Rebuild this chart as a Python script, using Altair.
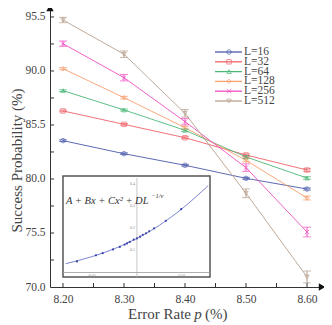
import altair as alt
import pandas as pd

# ---------------- data ----------------
p_vals = [8.20, 8.30, 8.40, 8.50, 8.60]
series = ["L=16", "L=32", "L=64", "L=128", "L=256", "L=512"]
succ_L16 = [83.55, 82.34, 81.27, 80.06, 79.07]
succ_L32 = [86.30, 85.06, 83.82, 82.22, 80.83]
succ_L64 = [88.18, 86.39, 84.51, 82.04, 80.09]
succ_L128 = [90.21, 87.53, 84.75, 81.73, 78.24]
succ_L256 = [92.53, 89.38, 85.31, 81.05, 75.09]
succ_L512 = [94.72, 91.55, 86.08, 78.68, 70.93]
err_L16 = [0.08, 0.08, 0.08, 0.09, 0.10]
err_L32 = [0.08, 0.08, 0.09, 0.10, 0.12]
err_L64 = [0.08, 0.09, 0.10, 0.12, 0.12]
err_L128 = [0.10, 0.12, 0.14, 0.15, 0.18]
err_L256 = [0.25, 0.30, 0.30, 0.35, 0.45]
err_L512 = [0.25, 0.30, 0.35, 0.40, 0.55]
colors = ["#4a5aab", "#f0646a", "#4cb878", "#f7a070", "#f050c0", "#b8a08e"]
shapes = ["circle", "square", "triangle-up", "diamond",
          "M-1,-1L1,1M-1,1L1,-1", "triangle-down"]

y_tick_vals = [70, 75, 80, 85, 90, 95]
y_tick_labels = ["70.0", "75.5", "80.0", "85.5", "90.0", "95.5"]
x_minor_ticks = [8.20, 8.25, 8.30, 8.35, 8.40, 8.45, 8.50, 8.55, 8.60]
y_minor_ticks = [72.5, 75, 77.5, 80, 82.5, 85, 87.5, 90, 92.5, 95]

# inset (fit of crossing points)
inset_fit_x = [-0.0158, -0.010, -0.005, 0.0, 0.005, 0.010, 0.0158]
inset_fit_y = [0.040, 0.072, 0.108, 0.155, 0.215, 0.290, 0.395]
inset_pt_x = [-0.0133, -0.0091, -0.0076, -0.0053, -0.0038, -0.0027, -0.0022,
              -0.0016, -0.0007, 0.0, 0.0007, 0.0013, 0.0020, 0.0027, 0.0038,
              0.0064, 0.0098]
inset_pt_y = [0.050, 0.078, 0.088, 0.105, 0.116, 0.127, 0.132, 0.139, 0.149,
              0.155, 0.163, 0.171, 0.178, 0.187, 0.200, 0.235, 0.288]
inset_ytick_vals = [0.1, 0.2, 0.3, 0.4]
inset_xtick_vals = [-0.01, 0.01]
inset_xtick_labels = ["-0.01", "0.01"]

# ---------------- tables ----------------
all_succ = [succ_L16, succ_L32, succ_L64, succ_L128, succ_L256, succ_L512]
all_err = [err_L16, err_L32, err_L64, err_L128, err_L256, err_L512]
rows = []
for i, (name, vals, errs) in enumerate(zip(series, all_succ, all_err)):
    for p, v, e in zip(p_vals, vals, errs):
        rows.append(dict(p=p, succ=v, lo=v - e, hi=v + e, series=name,
                         color=colors[i], shape=shapes[i]))
df = pd.DataFrame(rows)
leg = pd.DataFrame({"row": list(range(len(series))), "label": series,
                    "color": colors, "shape": shapes})
df_xt = pd.DataFrame({"p": x_minor_ticks})
df_yt = pd.DataFrame({"succ": y_minor_ticks})
fit = pd.DataFrame({"u": inset_fit_x, "v": inset_fit_y})
pts = pd.DataFrame({"u": inset_pt_x, "v": inset_pt_y})
iyt = pd.DataFrame({"v": inset_ytick_vals, "t": [f"{v:.1f}" for v in inset_ytick_vals]})
ixt = pd.DataFrame({"u": inset_xtick_vals, "t": inset_xtick_labels})

PLOT_W, PLOT_H = 273, 279
SERIF = "Liberation Serif"
GREY = "#444444"

xs = alt.Scale(domain=[8.1787, 8.6262], nice=False, zero=False)
ys = alt.Scale(domain=[70.0, 95.83], nice=False, zero=False)

label_expr = ("[" + ",".join(f"'{t}'" for t in y_tick_labels) + "][indexof(["
              + ",".join(str(v) for v in y_tick_vals) + "], datum.value)]")

xaxis = alt.Axis(values=p_vals, format=".2f", ticks=False, grid=False,
                 domainColor="#333333", domainWidth=1,
                 labelFont=SERIF, labelFontSize=11.5, labelColor=GREY,
                 labelPadding=6, title=None)
yaxis = alt.Axis(values=y_tick_vals, labelExpr=label_expr, ticks=False,
                 grid=False, domainColor="#333333", domainWidth=1,
                 labelFont=SERIF, labelFontSize=11.5, labelColor=GREY,
                 labelPadding=5, title="Success Probability (%)",
                 titleFont=SERIF, titleFontSize=15, titleFontWeight="normal",
                 titleColor=GREY, titleX=-34, titleY=152, titleAngle=270,
                 titleAlign="center", titleBaseline="middle")

X = alt.X("p:Q", scale=xs, axis=xaxis)
COL = alt.Color("color:N", scale=None)

base = alt.Chart(df)
lines = base.mark_line(strokeWidth=1, opacity=0.9).encode(
    x=X, y=alt.Y("succ:Q", scale=ys, axis=yaxis), color=COL,
    detail="series:N")
points = base.mark_point(filled=False, size=20, strokeWidth=1).encode(
    x=X, y=alt.Y("succ:Q", scale=ys, axis=yaxis), color=COL,
    shape=alt.Shape("shape:N", scale=None))
ebar = base.mark_rule(strokeWidth=1).encode(
    x=X, y=alt.Y("lo:Q", scale=ys, axis=yaxis), y2="hi:Q", color=COL)
cap_lo = base.mark_tick(orient="horizontal", size=8, thickness=1).encode(
    x=X, y=alt.Y("lo:Q", scale=ys, axis=yaxis), color=COL)
cap_hi = base.mark_tick(orient="horizontal", size=8, thickness=1).encode(
    x=X, y=alt.Y("hi:Q", scale=ys, axis=yaxis), color=COL)
xticks = alt.Chart(df_xt).mark_rule(color="#333333", strokeWidth=1).encode(
    x=X, y=alt.value(PLOT_H), y2=alt.value(PLOT_H - 4))
yticks = alt.Chart(df_yt).mark_rule(color="#333333", strokeWidth=1).encode(
    y=alt.Y("succ:Q", scale=ys, axis=yaxis), x=alt.value(0), x2=alt.value(4))
arrow_x = alt.Chart(df_xt.head(1)).mark_point(
    shape="triangle-right", filled=True, color="#111111", size=55, opacity=1
).encode(x=alt.value(PLOT_W - 1), y=alt.value(PLOT_H))
arrow_y = alt.Chart(df_xt.head(1)).mark_point(
    shape="triangle-up", filled=True, color="#111111", size=55, opacity=1
).encode(x=alt.value(0), y=alt.value(0))

TY = 311
title_a = alt.Chart(df_xt.head(1)).mark_text(
    text="Error Rate", font=SERIF, fontSize=15, color=GREY, align="right",
    baseline="alphabetic").encode(x=alt.value(141), y=alt.value(TY))
title_p = alt.Chart(df_xt.head(1)).mark_text(
    text="p", font=SERIF, fontSize=15, fontStyle="italic", color=GREY,
    align="center", baseline="alphabetic").encode(x=alt.value(148), y=alt.value(TY))
title_c = alt.Chart(df_xt.head(1)).mark_text(
    text="(%)", font=SERIF, fontSize=15, color=GREY, align="left",
    baseline="alphabetic").encode(x=alt.value(155), y=alt.value(TY))

main = alt.layer(lines, ebar, cap_lo, cap_hi, points, xticks, yticks,
                 arrow_x, arrow_y, title_a, title_p, title_c)

# ---------------- inset ----------------
IX0, IX1, IY0, IY1 = 13, 160, 168, 269
ixs = alt.Scale(domain=[-0.0164, 0.0162], range=[IX0, IX1], nice=False, zero=False)
iys = alt.Scale(domain=[-0.0205, 0.4386], range=[IY1, IY0], nice=False, zero=False)
IXE = alt.X("u:Q", scale=ixs, axis=None)
IYE = alt.Y("v:Q", scale=iys, axis=None)

frame = alt.Chart(fit.head(1)).mark_rect(
    fill="white", stroke="#555555", strokeWidth=1.5).encode(
    x=alt.value(IX0), x2=alt.value(IX1), y=alt.value(IY0), y2=alt.value(IY1))
vline = alt.Chart(pd.DataFrame({"u": [0.0]})).mark_rule(
    color="#bbbbbb", strokeWidth=0.8).encode(
    x=IXE, y=alt.value(IY0 + 2), y2=alt.value(IY1))
hline = alt.Chart(pd.DataFrame({"v": [0.0]})).mark_rule(
    color="#999999", strokeWidth=0.8).encode(
    y=IYE, x=alt.value(IX0), x2=alt.value(IX1))
fit_line = alt.Chart(fit).mark_line(
    color="#5a64c8", strokeWidth=0.8, interpolate="monotone").encode(x=IXE, y=IYE)
fit_pts = alt.Chart(pts).mark_point(
    color="#3a44a8", filled=True, size=5, opacity=1).encode(x=IXE, y=IYE)
iyt_txt = alt.Chart(iyt).mark_text(
    font=SERIF, fontSize=4, color="#888888", align="right", dx=-2).encode(
    x=alt.X("z:Q", scale=ixs, axis=None),
    y=IYE, text="t:N").transform_calculate(z="0")
ixt_txt = alt.Chart(ixt).mark_text(
    font=SERIF, fontSize=4, color="#888888", align="center", dy=4).encode(
    x=IXE, y=alt.Y("z:Q", scale=iys, axis=None), text="t:N").transform_calculate(z="0")
formula = alt.Chart(fit.head(1)).mark_text(
    text="A + Bx + Cx² + DL", font=SERIF, fontSize=10.5, fontStyle="italic",
    color="#333333", align="left", baseline="alphabetic").encode(
    x=alt.value(IX0 + 3), y=alt.value(196))
formula_sup = alt.Chart(fit.head(1)).mark_text(
    text="−1/ν", font=SERIF, fontSize=6.5, fontStyle="italic",
    color="#333333", align="left", baseline="alphabetic").encode(
    x=alt.value(IX0 + 88), y=alt.value(190))

inset = alt.layer(frame, vline, hline, fit_line, fit_pts, iyt_txt, ixt_txt,
                  formula, formula_sup)

# ---------------- legend ----------------
lys = alt.Scale(domain=[0, 5], range=[44, 93], nice=False, zero=False)
LY = alt.Y("row:Q", scale=lys, axis=None)
lg = alt.Chart(leg)
leg_line = lg.mark_rule(strokeWidth=1.3).encode(
    y=LY, x=alt.value(165), x2=alt.value(192), color=COL)
leg_pt = lg.mark_point(filled=False, size=20, strokeWidth=1).encode(
    y=LY, x=alt.value(179), color=COL, shape=alt.Shape("shape:N", scale=None))
leg_txt = lg.mark_text(font=SERIF, fontSize=11.5, color=GREY, align="left",
                       baseline="middle").encode(
    y=LY, x=alt.value(194), text="label:N")
legend = alt.layer(leg_line, leg_pt, leg_txt)

chart = alt.layer(main, inset, legend).resolve_scale(
    x="independent", y="independent"
).properties(
    width=PLOT_W, height=PLOT_H,
    autosize=alt.AutoSizeParams(type="none"),
    padding={"left": 42, "top": 0, "right": 1, "bottom": 38},
).configure_view(stroke=None)

chart.save("out.html", embed_options={"renderer": "svg", "actions": False})
